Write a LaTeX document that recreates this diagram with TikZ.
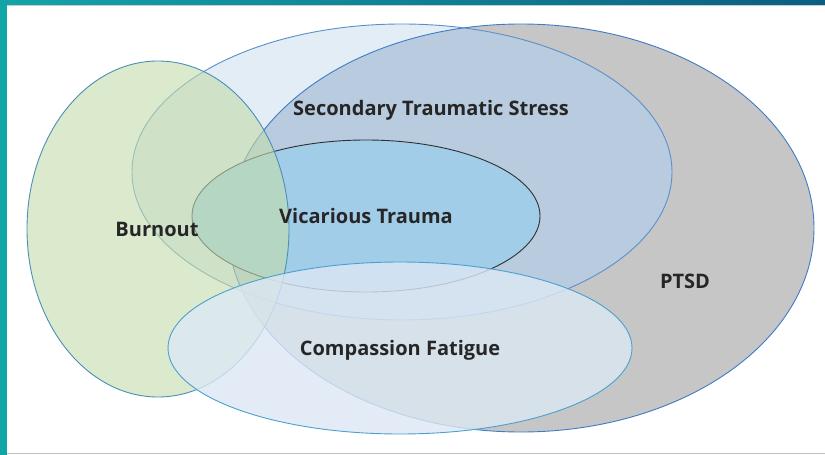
\documentclass[tikz,border=0pt]{standalone}
\usepackage{fontspec}
\setmainfont{Open Sans}
\begin{document}
\begin{tikzpicture}[x=1pt,y=-1pt,
  lbl/.style={font=\bfseries\fontsize{20}{22}\selectfont, text=black!85},
  ring/.style={line width=0.9pt}]
\definecolor{ptsdfill}{HTML}{C6C6C6}
\definecolor{ptsdline}{HTML}{3F7CC6}
\definecolor{stsfill}{HTML}{E3EDF6}
\definecolor{stsmix}{HTML}{B9CBDF}
\definecolor{stsline}{HTML}{5B8FCA}
\definecolor{bofill}{HTML}{C3DCAA}
\definecolor{boline}{HTML}{4A8FB8}
\definecolor{vtfill}{HTML}{A2CDE9}
\definecolor{vtline}{HTML}{303030}
\definecolor{cffill}{HTML}{DCE8F4}
\definecolor{cfline}{HTML}{4AA0D0}
\definecolor{tealA}{HTML}{12A5A8}
\definecolor{tealB}{HTML}{0B5E82}
\useasboundingbox (0,0) rectangle (825,455);
\fill[white] (0,0) rectangle (825,455);
% frame
\shade[left color=tealA, right color=tealB] (0,0) rectangle (825,4.5);
\fill[tealA] (0,0) rectangle (7,455);
\draw[black!20, line width=0.8pt] (7,5.2) -- (825,5.2);
\draw[black!25, line width=1pt] (7,453.5) -- (825,453.5);
% PTSD
\fill[ptsdfill] (521,228) ellipse [x radius=293, y radius=204];
% Secondary traumatic stress
\fill[stsfill] (402,172) ellipse [x radius=270, y radius=148];
\begin{scope}
  \clip (402,172) ellipse [x radius=270, y radius=148];
  \fill[stsmix] (521,228) ellipse [x radius=293, y radius=204];
\end{scope}
\draw[ring, ptsdline] (521,228) ellipse [x radius=293, y radius=204];
\draw[ring, stsline] (402,172) ellipse [x radius=270, y radius=148];
% Vicarious trauma
\fill[vtfill] (366,216) ellipse [x radius=174, y radius=76];
\draw[ring, vtline] (366,216) ellipse [x radius=174, y radius=76];
% Burnout
\fill[bofill, fill opacity=0.6] (158,229) ellipse [x radius=131, y radius=168];
\draw[ring, boline] (158,229) ellipse [x radius=131, y radius=168];
% Compassion fatigue
\fill[cffill, fill opacity=0.8] (400,348) ellipse [x radius=232, y radius=86];
\draw[ring, cfline] (400,348) ellipse [x radius=232, y radius=86];
% labels
\node[lbl] (sts) at (431,110) {Secondary Traumatic Stress};
\node[lbl] (vt) at (366,216) {Vicarious Trauma};
\node[lbl] (bo) at (157,229) {Burnout};
\node[lbl] (ptsd) at (685,281) {PTSD};
\node[lbl] (cf) at (400,350) {Compassion Fatigue};
\end{tikzpicture}
\end{document}
